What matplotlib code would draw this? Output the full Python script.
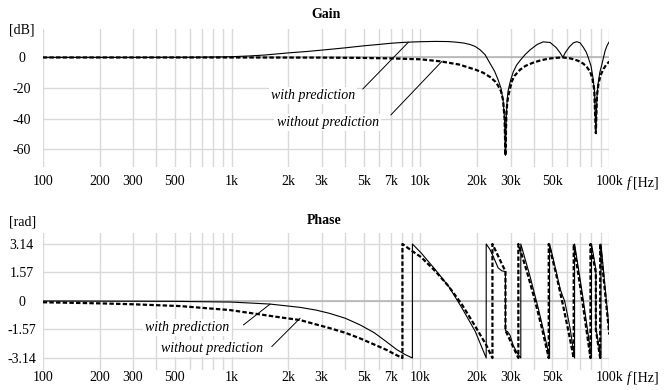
import matplotlib
matplotlib.use('Agg')
import matplotlib.pyplot as plt
from matplotlib.ticker import FixedLocator, NullFormatter

# x axis (frequency, Hz)
x_ticks = [100, 200, 300, 500, 1000, 2000, 3000, 5000, 7000, 10000, 20000, 30000, 50000, 100000]
x_ticklabels = ['100', '200', '300', '500', '1k', '2k', '3k', '5k', '7k', '10k', '20k', '30k', '50k', '100k']
x_grid = [m * d for d in (100, 1000, 10000) for m in range(1, 10)] + [100000]

# Gain [dB]
gain_f_with = [100, 300, 600, 800, 1000, 1250, 1500, 2000, 2500, 3000, 4000, 5000, 6000,
               7000, 8000, 9000, 10000, 12000, 14000, 15500, 17000, 18300, 19500, 20700,
               22000, 23400, 24700, 25800, 26700, 27400, 27900, 28200, 28500, 28800,
               29100, 30000, 31000, 32300, 33700, 35800, 38100, 41500, 44700, 48600,
               52300, 54800, 56800, 58500, 61500, 64600, 67300, 70000, 73000, 75500,
               77600, 80000, 81900, 83500, 84900, 86000, 87300, 89000, 91400, 93000,
               95100, 97500, 100000]
gain_with = [0, 0, 0.1, 0.3, 0.5, 1.0, 1.6, 3.0, 3.9, 4.8, 6.3, 7.6, 8.5,
             9.3, 9.8, 10.1, 10.3, 10.5, 10.4, 10.0, 9.4, 8.5, 7.2, 5.0,
             1.8, -4.0, -9.0, -14.7, -20, -28, -40, -64, -38, -28,
             -22, -15, -9.5, -5.0, -2.0, 1.8, 5.0, 8.5, 10.2, 9.8,
             6.5, 3.2, 0.1, 3.2, 7.0, 9.6, 10.3, 9.6, 6.5, 3.5,
             -0.5, -5.5, -13, -22, -49.5, -26, -17, -10, -4.5, -0.5,
             4.5, 8.0, 10.3]

gain_f_without = [100, 1000, 3000, 5000, 7000, 10000, 12700, 16000, 19600, 21500, 23400,
                  25000, 25800, 26700, 27400, 27900, 28200, 28500, 28800, 29100, 30000,
                  30500, 31500, 33700, 36000, 39500, 43000, 46700, 51000, 56800, 61000,
                  64400, 68500, 72800, 76000, 79200, 81500, 83200, 84900, 86000, 87700,
                  90000, 93200, 96500, 100000]
gain_without = [0, 0, -0.1, -0.3, -0.6, -1.2, -2.5, -4.6, -8.0, -10, -12.8,
                -16, -18.5, -22, -28, -40, -64, -38, -30, -26, -19,
                -15.5, -12, -8.0, -5.5, -3.4, -2.0, -1.0, -0.3, 0, -0.4,
                -1.1, -2.2, -4.0, -6.2, -9.3, -14, -21, -49.5, -25, -17,
                -11.5, -7.5, -4.6, -2.7]

# Phase [rad] (repeated frequency = vertical jump)
phase_f_with = [100, 500, 1000, 1600, 2300, 2800, 3300, 4000, 4800, 5700, 6600, 7500, 8300, 9070,
                9070, 10100, 12000, 14100, 16600, 19500, 22300,
                22300, 23300, 24300, 25800, 27000, 28200,
                28200, 29000, 29800, 31000, 32500, 34000,
                34000, 38000, 42000, 45000, 48300,
                48300, 52000, 55000, 56500, 58000, 59500, 62000, 65500,
                65500, 72500, 80500,
                80500, 84900,
                84900, 90300,
                90300, 100000]
phase_with = [0, -0.02, -0.06, -0.17, -0.35, -0.5, -0.68, -0.95, -1.32, -1.75, -2.24, -2.68, -2.95, -3.14,
              3.14, 2.64, 1.72, 0.81, -0.39, -1.67, -3.14,
              3.14, 2.85, 2.45, 1.82, 1.66, 1.62,
              -1.62, -1.7, -1.88, -2.45, -2.85, -3.14,
              3.14, 1.38, -0.37, -1.68, -3.14,
              3.14, 1.75, 0.65, 0.3, 0.0, -0.55, -1.5, -3.14,
              3.14, 0.2, -3.14,
              3.14, 1.75,
              -1.5, -3.14,
              3.14, -1.65]

phase_f_without = [100, 200, 300, 533, 982, 1807, 2306, 3324, 4000, 4793, 5700, 6637, 7300, 8030,
                   8030, 9070, 10100, 12000, 14100, 16600, 19500, 22300, 24060,
                   24060, 28200,
                   28200, 33000,
                   33000, 36300, 40000, 44000, 47800,
                   47800, 52000, 56800, 61000, 64800,
                   64800, 72000, 79500,
                   79500, 84900,
                   84900, 89500,
                   89500, 100000]
phase_without = [-0.07, -0.13, -0.18, -0.28, -0.5, -0.9, -1.05, -1.5, -1.75, -2.06, -2.4, -2.7, -2.93, -3.14,
                 3.14, 2.74, 2.41, 1.64, 0.81, -0.2, -1.39, -2.42, -3.14,
                 3.14, 1.62,
                 -1.62, -3.14,
                 3.14, 1.76, 0.2, -1.5, -3.14,
                 3.14, 1.6, -0.2, -1.75, -3.14,
                 3.14, 0.0, -3.14,
                 3.14, 1.55,
                 -1.6, -3.14,
                 3.14, -1.85]

plt.rcParams['font.family'] = ['Liberation Serif', 'DejaVu Serif']
plt.rcParams['font.size'] = 10

fig = plt.figure(figsize=(6.64, 3.9), dpi=100)
ax1 = fig.add_axes([0.0643, 0.5718, 0.8533, 0.3538])
ax2 = fig.add_axes([0.0643, 0.0513, 0.8533, 0.3520])


def setup(ax, ylim, yticks, yticklabels, xpad):
    ax.set_xscale('log')
    ax.set_xlim(100, 100000)
    ax.set_ylim(*ylim)
    for s in ax.spines.values():
        s.set_visible(False)
    ax.xaxis.set_major_locator(FixedLocator(x_ticks))
    ax.xaxis.set_minor_locator(FixedLocator([v for v in x_grid if v not in x_ticks]))
    ax.xaxis.set_minor_formatter(NullFormatter())
    ax.set_xticklabels(x_ticklabels)
    ax.set_yticks(yticks)
    ax.set_yticklabels(yticklabels)
    for lab in ax.get_yticklabels():
        lab.set_horizontalalignment('center')
    ax.grid(True, which='both', axis='x', color='#d9d9d9', lw=1.0, zorder=0)
    ax.grid(True, which='major', axis='y', color='#d9d9d9', lw=1.0, zorder=0)
    ax.axhline(0, color='#b0b0b0', lw=1.1, zorder=1)
    ax.tick_params(axis='both', which='both', length=0)
    ax.tick_params(axis='y', pad=15)
    ax.tick_params(axis='x', pad=xpad)
    ax.set_axisbelow(True)


setup(ax1, (-71.6, 18.6), [0, -20, -40, -60], ['0', '-20', '-40', '-60'], 6)
setup(ax2, (-3.8, 3.76), [3.14, 1.57, 0, -1.57, -3.14],
      ['3.14', '1.57', '0', '-1.57', '-3.14'], 0.5)

dash = (0, (2, 1))
ax1.plot(gain_f_with, gain_with, color='black', lw=0.8, zorder=3)
ax1.plot(gain_f_without, gain_without, color='black', lw=1.6, ls=dash, zorder=3)
ax2.plot(phase_f_with, phase_with, color='black', lw=0.8, zorder=3)
ax2.plot(phase_f_without, phase_without, color='black', lw=1.6, ls=dash, zorder=3)

box = dict(facecolor='white', edgecolor='none', pad=1.5)
lead = dict(arrowstyle='-', lw=0.7, color='black', shrinkA=0, shrinkB=0)

# Gain labels
ax1.text(2692, -25, 'with prediction', style='italic', ha='center', va='center', bbox=box, zorder=4)
ax1.annotate('', xy=(8640, 10.0), xytext=(4954, -20.6), arrowprops=lead, zorder=4)
ax1.text(3225, -42.4, 'without prediction', style='italic', ha='center', va='center', bbox=box, zorder=4)
ax1.annotate('', xy=(12980, -2.6), xytext=(6970, -37.6), arrowprops=lead, zorder=4)

# Phase labels
ax2.text(585, -1.45, 'with prediction', style='italic', ha='center', va='center', bbox=box, zorder=4)
ax2.annotate('', xy=(1600, -0.17), xytext=(1155, -1.32), arrowprops=lead, zorder=4)
ax2.text(793, -2.6, 'without prediction', style='italic', ha='center', va='center', bbox=box, zorder=4)
ax2.annotate('', xy=(2306, -0.95), xytext=(1633, -2.51), arrowprops=lead, zorder=4)

# titles and units
fig.text(326 / 664, 1 - 15 / 390, 'Gain', weight='bold', ha='center', va='center')
fig.text(324 / 664, 1 - 221 / 390, 'Phase', weight='bold', ha='center', va='center')
fig.text(22 / 664, 1 - 30 / 390, '[dB]', ha='center', va='center')
fig.text(23 / 664, 1 - 222 / 390, '[rad]', ha='center', va='center')
for yy in (183, 378.5):
    fig.text(627 / 664, 1 - yy / 390, 'f', style='italic', ha='left', va='center')
    fig.text(633 / 664, 1 - yy / 390, '[Hz]', ha='left', va='center')

fig.savefig('out.png', dpi=100)
